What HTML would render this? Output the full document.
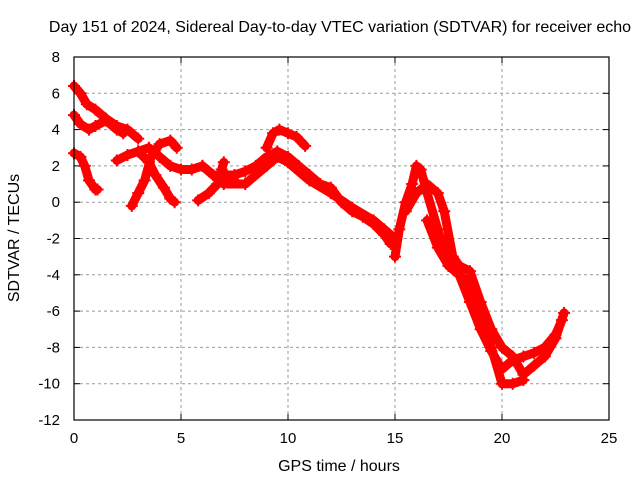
<!DOCTYPE html>
<html><head><meta charset="utf-8"><style>
body{margin:0;background:#fff}
svg{display:block;font-family:"Liberation Sans",sans-serif}
</style></head><body>
<svg id="c" width="640" height="480">
<text x="340" y="32" text-anchor="middle" font-size="16">Day 151 of 2024, Sidereal Day-to-day VTEC variation (SDTVAR) for receiver echo</text>
<text x="339" y="471" text-anchor="middle" font-size="16">GPS time / hours</text>
<text transform="translate(19,238) rotate(-90)" text-anchor="middle" font-size="16">SDTVAR / TECUs</text>
<g id="grid"></g><g id="ticks"></g><g id="series"></g>
<rect x="74" y="57" width="535" height="363" fill="none" stroke="#000" stroke-width="1.2"/>
</svg>
<script>
const xTicks=[0,5,10,15,20,25];
const yTicks=[8,6,4,2,0,-2,-4,-6,-8,-10,-12];
const tracks=[
[[0,6.4],[0.3,6],[0.6,5.4],[1,5.1],[1.5,4.6],[2,4.2],[2.5,4],[3,3.5]],
[[0,4.8],[0.3,4.3],[0.7,4],[1,4.2],[1.5,4.5],[2,4],[2.3,3.8]],
[[0,2.7],[0.3,2.5],[0.5,2],[0.7,1.2],[1,0.7],[1.1,0.7]],
[[2.7,-0.2],[3,0.5],[3.3,1.2],[3.6,2.5],[4,3.2],[4.5,3.4],[4.8,3]],
[[3,2.8],[3.5,2.2],[3.8,1.5],[4.2,0.8],[4.5,0.2],[4.7,0]],
[[2,2.3],[2.5,2.6],[3,2.8],[3.5,3],[4,2.5],[4.5,2],[5,1.8],[5.5,1.8],[6,2],[6.5,1.5],[7,1.4],[7.5,1.2]],
[[5.8,0.1],[6.3,0.5],[6.7,1],[7,1.5],[7.5,1.5],[8,1.7],[8.5,2],[9,2.5],[9.5,2.8],[10,2.5],[10.5,2],[11,1.5],[11.5,1],[12,0.8],[12.5,0],[13,-0.5],[13.5,-0.8],[14,-1.2],[14.5,-1.8],[14.8,-2.3]],
[[9,3],[9.3,3.8],[9.6,4],[10,3.8],[10.4,3.6],[10.8,3.1]],
[[6,2],[7,1],[8,1],[9,2],[9.5,2.5],[10,2.2],[11,1.2],[12,0.5],[13,-0.3],[14,-1],[14.5,-1.5],[15,-2]],
[[6.8,1.2],[6.9,1.8],[7,2.2]],
[[15,-3],[15.2,-1.5],[15.5,0],[15.8,1],[16,2],[16.2,1.8],[16.5,0.5],[17,-1.5],[17.5,-3.5],[18,-4],[18.5,-4.5],[19,-6.5],[19.5,-8],[20,-10],[20.5,-10],[21,-9.8]],
[[15.5,-0.5],[16,0.5],[16.5,1],[17,0.5],[17.3,-0.5],[17.7,-3],[18,-3.5],[18.5,-3.8],[19,-5.5],[19.5,-7],[20,-8],[20.5,-8.5],[21,-9.5],[21.5,-9],[22,-8.5],[22.5,-7.5],[22.9,-6.1]],
[[16.5,-1],[17,-2.5],[17.5,-3.5],[18,-4],[18.5,-5.5],[19,-7],[19.5,-8.2],[20,-9.2],[20.5,-8.7],[21,-8.5],[21.5,-8.3],[22,-8],[22.5,-7.3],[22.8,-6.5]]
];
const NS='http://www.w3.org/2000/svg';
const X0=74,X1=609,Y0=57,Y1=420;
function sx(v){return X0+(v-0)/(25-0)*(X1-X0);}
function sy(v){return Y1-(v+12)/(8+12)*(Y1-Y0);}
function mk(t,a,p){const e=document.createElementNS(NS,t);for(const k in a)e.setAttribute(k,a[k]);p.appendChild(e);return e;}
const grid=document.getElementById('grid'),ticks=document.getElementById('ticks'),ser=document.getElementById('series');
xTicks.forEach(v=>{const x=sx(v);
 if(v>0&&v<25){const l=mk('line',{x1:x,x2:x,y1:Y0,y2:Y1,stroke:'#999','stroke-dasharray':'3,3'},grid);
 }
 const t=mk('text',{x:x,y:443,'text-anchor':'middle','font-size':'15'},ticks);t.textContent=v;
 
 mk('line',{x1:x,x2:x,y1:Y1,y2:Y1-6,stroke:'#000'},ticks);mk('line',{x1:x,x2:x,y1:Y0,y2:Y0+6,stroke:'#000'},ticks);});
yTicks.forEach(v=>{const y=sy(v);
 if(v>-12&&v<8){const l=mk('line',{x1:X0,x2:X1,y1:y,y2:y,stroke:'#999','stroke-dasharray':'3,3'},grid);
 }
 const t=mk('text',{x:60,y:y+5,'text-anchor':'end','font-size':'15'},ticks);t.textContent=v;
 
 mk('line',{x1:X0,x2:X0+6,y1:y,y2:y,stroke:'#000'},ticks);mk('line',{x1:X1,x2:X1-6,y1:y,y2:y,stroke:'#000'},ticks);});
tracks.forEach(tr=>{
 const pl=mk('polyline',{points:tr.map(p=>sx(p[0])+','+sy(p[1])).join(' '),fill:'none',stroke:'#f00','stroke-width':9,'stroke-linejoin':'round','stroke-linecap':'round'},ser);
 
 tr.forEach(p=>{const x=sx(p[0]),y=sy(p[1]);
  const m=mk('path',{d:`M${x-6},${y}H${x+6}M${x},${y-6}V${y+6}`,stroke:'#f00','stroke-width':2},ser);
  });
});
</script>
</body></html>
